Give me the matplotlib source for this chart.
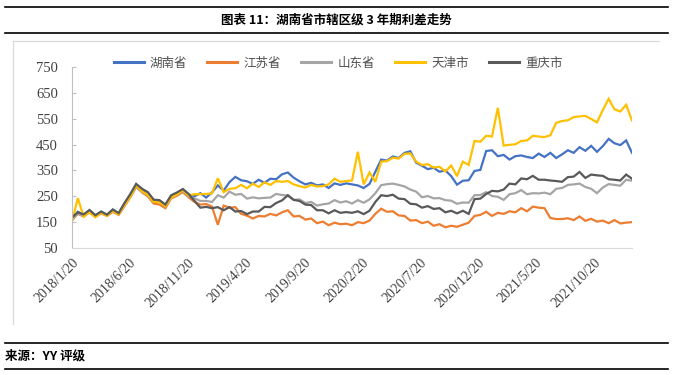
import matplotlib
matplotlib.use("Agg")
import matplotlib.pyplot as plt
from matplotlib.lines import Line2D
import pandas as pd

plt.rcParams['font.family'] = ['Noto Sans CJK SC', 'DejaVu Sans']

title = "图表 11：湖南省市辖区级 3 年期利差走势"
source = "来源：YY 评级"
series_names = ["湖南省", "江苏省", "山东省", "天津市", "重庆市"]
colors = ["#4472C4", "#ED7D31", "#A5A5A5", "#FFC000", "#595959"]

start_date = "2018-01-20"
end_date = "2022-01-28"
tick_labels = ["2018/1/20", "2018/6/20", "2018/11/20", "2019/4/20", "2019/9/20",
               "2020/2/20", "2020/7/20", "2020/12/20", "2021/5/20", "2021/10/20"]

hunan = [162,190,178,195,175,190,178,198,183,222,255,295,275,262,235,233,215,252,262,276,255,
         250,262,245,265,292,272,305,325,312,308,298,314,302,318,316,335,342,322,308,296,302,
         292,296,282,300,294,300,296,292,282,298,345,392,388,404,398,418,424,380,368,355,360,
         345,350,328,295,310,312,348,352,425,428,405,410,392,405,408,402,398,415,402,418,398,
         412,428,418,440,426,445,422,444,472,455,448,466,418]
jiangsu = [158,182,172,188,170,184,174,190,178,212,246,286,265,250,222,218,204,242,252,266,246,
           228,218,220,210,140,214,206,208,182,175,164,174,172,182,176,188,196,172,174,160,164,
           146,152,138,148,142,144,138,150,146,156,182,202,190,192,176,174,156,158,146,152,136,
           142,130,136,132,140,148,174,178,190,174,186,182,192,188,204,192,210,206,204,166,162,
           162,165,158,172,155,163,152,156,146,158,145,148,150]
shandong = [160,184,174,189,173,186,176,193,181,218,248,288,267,256,230,229,213,247,255,271,250,
            242,232,232,228,254,245,268,256,259,241,246,242,244,245,259,255,253,236,238,224,228,
            214,219,222,235,226,231,222,235,225,238,262,293,297,299,294,288,276,268,246,251,242,
            243,235,233,221,226,225,254,255,266,251,248,236,258,262,274,258,262,261,264,258,279,
            282,294,296,299,286,279,262,284,297,294,291,314,310]
tianjin = [152,243,171,189,169,186,175,193,180,216,249,292,269,256,228,227,212,246,257,273,253,
           258,258,259,261,320,266,279,281,294,281,299,286,304,294,309,306,309,296,289,284,294,
           288,289,296,318,306,309,311,422,296,342,306,384,386,399,396,414,416,384,371,374,361,
           364,346,369,328,384,371,464,461,484,481,592,446,449,451,464,466,484,481,479,486,534,
           541,544,556,559,561,549,536,584,627,586,578,604,543]
chongqing = [168,188,180,197,177,191,179,199,185,224,259,298,279,266,237,235,218,254,265,278,259,
             232,206,209,204,208,196,208,191,193,181,191,191,209,208,224,234,254,236,232,218,216,
             196,196,184,196,186,189,186,192,181,194,228,254,251,256,241,239,221,219,206,212,201,
             204,188,194,184,194,182,239,241,259,271,269,276,299,296,319,316,329,314,314,311,309,
             306,324,326,344,321,334,331,329,316,314,311,334,318]

all_series = [hunan, jiangsu, shandong, tianjin, chongqing]
dates = pd.date_range(start_date, end_date, periods=len(hunan))

W, H = 673, 375
fig = plt.figure(figsize=(W / 100, H / 100), dpi=100)
ax = fig.add_axes([72 / W, 1 - 248 / H, (632 - 72) / W, (248 - 67) / H])

for name, vals, c in zip(series_names, all_series, colors):
    ax.plot(dates, vals, color=c, lw=1.6, label=name, solid_joinstyle='miter')

ax.set_ylim(50, 750)
ax.set_yticks(range(50, 751, 100))
ax.set_xlim(pd.Timestamp(start_date), pd.Timestamp(end_date))
tick_dates = [pd.Timestamp(t.replace('/', '-')) for t in tick_labels]
ax.set_xticks(tick_dates)
ax.set_xticklabels(tick_labels, rotation=45, ha='right', va='top', rotation_mode='anchor',
                   family='Liberation Serif', fontsize=10, color='#404040')
for lab in ax.get_yticklabels():
    lab.set_family('Liberation Serif')
    lab.set_fontsize(10.5)
    lab.set_color('#404040')
ax.tick_params(axis='x', length=0, pad=6)
ax.tick_params(axis='y', length=3, direction='in', color='#BFBFBF', pad=10)
for s in ['top', 'right']:
    ax.spines[s].set_visible(False)
ax.spines['left'].set_color('#BFBFBF')
ax.spines['bottom'].set_color('#D9D9D9')
ax.patch.set_alpha(0)

leg = fig.legend(loc='center', bbox_to_anchor=(338 / W, 1 - 63 / H), ncol=5, frameon=False,
                 fontsize=9, handlelength=2.4, handletextpad=0.5, columnspacing=1.6)
for t in leg.get_texts():
    t.set_color('#505050')
for l in leg.get_lines():
    l.set_linewidth(2.2)

def hline(y, x0, x1, color='black', lw=1.2):
    fig.add_artist(Line2D([x0 / W, x1 / W], [1 - y / H, 1 - y / H], color=color, lw=lw,
                          transform=fig.transFigure))

def vline(x, y0, y1, color, lw=1.0):
    fig.add_artist(Line2D([x / W, x / W], [1 - y0 / H, 1 - y1 / H], color=color, lw=lw,
                          transform=fig.transFigure))

hline(7, 5, 668)
hline(33, 5, 668)
hline(343, 5, 668)
hline(369, 5, 668)
hline(41, 13, 659, color='#D9D9D9', lw=0.9)
vline(13, 41, 324, color='#D9D9D9', lw=0.9)

fig.text(336 / W, 1 - 20 / H, title, ha='center', va='center', fontsize=9, fontweight='bold')
fig.text(5 / W, 1 - 356 / H, source, ha='left', va='center', fontsize=9, fontweight='bold')

fig.savefig("out.png", dpi=100)
